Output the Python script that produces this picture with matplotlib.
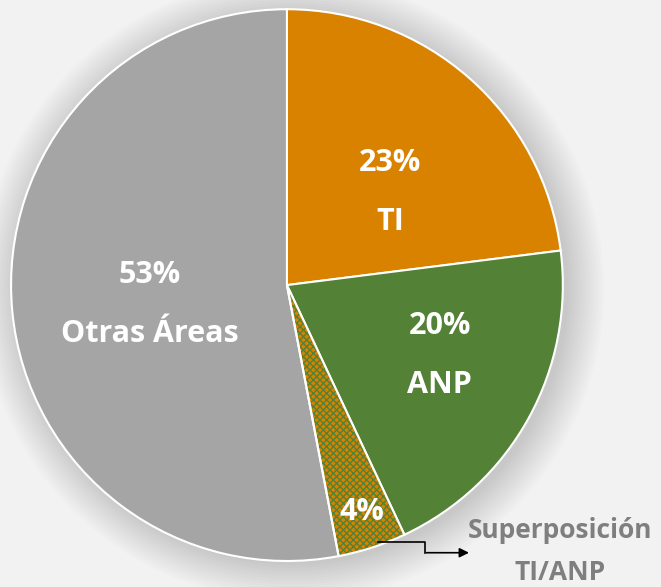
import numpy as np
import matplotlib.pyplot as plt
from matplotlib.patches import Wedge, Circle

labels = ["TI", "ANP", "", "Otras Áreas"]
values = [23, 20, 4, 53]
colors = ["#D98200", "#538135", "#D98200", "#A5A5A5"]
# label centres (data units, pie radius = 1)
label_xy = [(0.373, 0.337), (0.554, -0.254), (0.272, -0.822), (-0.496, -0.072)]

plt.rcParams["font.family"] = ["Open Sans", "DejaVu Sans"]

fig = plt.figure(figsize=(6.61, 5.87), dpi=100, facecolor="#f2f2f2")
ax = fig.add_axes([0.0166, 0.0443, 0.835, 0.940])
ax.set_facecolor("#f2f2f2")

# soft shadow behind the pie
for i in range(14):
    ax.add_patch(Circle((0.02, -0.015), 1.0 + 0.01 * i, color="#000000",
                        alpha=0.011, lw=0, zorder=0, clip_on=False))

wedges, _ = ax.pie(values, colors=colors, startangle=90, counterclock=False,
                   wedgeprops=dict(edgecolor="white", linewidth=1.5))
for w in wedges:
    w.set_zorder(2)

# hatched overlap slice
ov = wedges[2]
ov.set_hatch("xxxxx")
ov.set_edgecolor("#538135")
ov.set_linewidth(0)
ax.add_patch(Wedge(ov.center, ov.r, ov.theta1, ov.theta2, facecolor="none",
                   edgecolor="white", linewidth=1.5, zorder=3))

for lab, v, (x, y) in zip(labels, values, label_xy):
    if lab:
        ax.text(x, y + 0.107, f"{v}%", ha="center", va="center", color="white",
                fontsize=22, fontweight="bold", zorder=5)
        ax.text(x, y - 0.107, lab, ha="center", va="center", color="white",
                fontsize=22, fontweight="bold", zorder=5)
    else:
        ax.text(x, y, f"{v}%", ha="center", va="center", color="white",
                fontsize=22, fontweight="bold", zorder=5)

# callout for the overlap
ax.plot([0.33, 0.50, 0.50], [-0.93, -0.93, -0.97], color="black", lw=1.2,
        zorder=6, clip_on=False)
ax.annotate("", xy=(0.67, -0.97), xytext=(0.495, -0.97),
            arrowprops=dict(arrowstyle="-|>", color="black", lw=1.2,
                            mutation_scale=14), annotation_clip=False, zorder=6)
ax.text(0.99, -0.888, "Superposición", ha="center", va="center",
        color="#7f7f7f", fontsize=19, fontweight="bold", zorder=6, clip_on=False)
ax.text(0.99, -1.04, "TI/ANP", ha="center", va="center",
        color="#7f7f7f", fontsize=19, fontweight="bold", zorder=6, clip_on=False)

ax.set_xlim(-1, 1)
ax.set_ylim(-1, 1)
ax.set_aspect("equal")
ax.axis("off")

fig.savefig("out.png", dpi=100, facecolor=fig.get_facecolor())
